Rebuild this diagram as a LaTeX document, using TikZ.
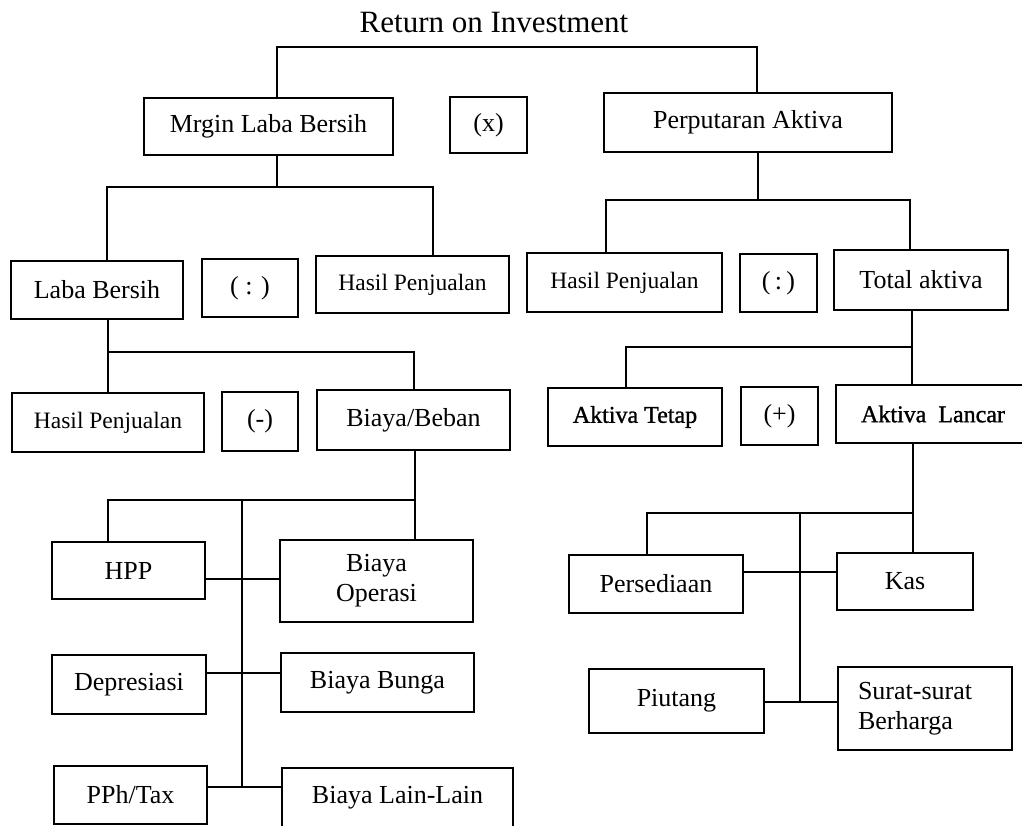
\documentclass[tikz,border=0pt]{standalone}
\usepackage{fontspec}
\setmainfont{Liberation Serif}
\newfontfamily\semib[FakeBold=1.2]{Liberation Serif}
\newcommand\fsz[1]{\fontsize{#1}{30}\selectfont}
\begin{document}
\begin{tikzpicture}[x=1pt,y=-1pt,
  box/.style={draw, line width=1.3pt, inner sep=0pt, font=\fsz{26}},
  hp/.style={box, font=\fsz{23.5}},
  bx/.style={box, font=\semib\fsz{24}},
  sz/.style n args={2}{minimum width=#1pt, minimum height=#2pt},
  ln/.style={line width=1.3pt}]
\useasboundingbox (0,0) rectangle (1022,825);
\fill[white] (0,0) rectangle (1022,825);

\node[font=\fsz{31}, anchor=base] (title) at (494,32) {Return on Investment};

% level 1
\node[box, sz={249}{57}] (mlb) at (268.5,126.5) {Mrgin Laba Bersih};
\node[box, sz={77}{56}] (kali) at (488.5,125) {(x)};
\node[box, sz={288}{59}] (pa) at (748,122.5) {Perputaran Aktiva};

% level 2
\node[box, sz={172}{58}] (lb) at (97,290) {Laba Bersih};
\node[box, sz={96}{58}] (bagi1) at (250,288) {( : )};
\node[hp, sz={193}{57}] (hp1) at (412.5,284.5) {Hasil Penjualan};
\node[hp, sz={195}{59}] (hp2) at (624.5,282.5) {Hasil Penjualan};
\node[box, sz={77}{58}] (bagi2) at (778.5,283) {(\,:\,)};
\node[box, sz={174}{60}] (ta) at (921,280) {Total aktiva};

% level 3
\node[hp, sz={192}{59}] (hp3) at (108,422.5) {Hasil Penjualan};
\node[box, sz={76}{59}] (kurang) at (260,421.5) {(-)};
\node[box, sz={193}{60}] (bb) at (413.5,420) {Biaya/Beban};
\node[bx, sz={174}{58}] (at) at (635,417) {Aktiva Tetap};
\node[box, sz={77}{58}] (tambah) at (779.5,416) {(+)};
\node[bx, sz={194}{58}] (al) at (933,414) {Aktiva\ \ Lancar};

% level 4 left
\node[box, sz={153}{57}] (hpp) at (128.5,570.5) {HPP};
\node[box, sz={193}{82}, align=center] (bo) at (376.5,581) {Biaya\\Operasi};
\node[box, sz={154}{59}] (dep) at (129,684.5) {Depresiasi};
\node[box, sz={193}{59}] (bbu) at (377.5,682.5) {Biaya Bunga};
\node[box, sz={153}{58}] (pph) at (130.5,795) {PPh/Tax};
\node[box, sz={231}{59}] (bll) at (397.5,797.5) {Biaya Lain-Lain};

% level 4 right
\node[box, sz={174}{58}] (pers) at (656,584) {Persediaan};
\node[box, sz={136}{57}] (kas) at (905,581.5) {Kas};
\node[box, sz={175}{64}] (piu) at (676.5,701) {Piutang};
\node[box, sz={174}{83}, align=left, text width=134pt] (ssb) at (925,708.5) {Surat-surat\\Berharga};

% connector coordinates
\coordinate (t1) at (277,47);   \coordinate (t2) at (757,47);
\coordinate (m0) at (277,187);  \coordinate (m1) at (107,187);  \coordinate (m2) at (433,187);
\coordinate (p0) at (758,200);  \coordinate (p1) at (606,200);  \coordinate (p2) at (910,200);
\coordinate (l1) at (108,352);  \coordinate (l2) at (414,352);
\coordinate (a1) at (626,347);  \coordinate (a2) at (912,347);
\coordinate (b1) at (108,500);  \coordinate (b2) at (415,500);  \coordinate (b3) at (242,500);
\coordinate (r1) at (242,579);  \coordinate (r2) at (242,673);  \coordinate (r3) at (242,787);
\coordinate (c1) at (647,513);  \coordinate (c2) at (913,513);  \coordinate (c3) at (800,513);
\coordinate (s1) at (800,572);  \coordinate (s2) at (800,702);

% connectors
\draw[ln] (t1 |- mlb.north) -- (t1) -- (t2) -- (t2 |- pa.north);
\draw[ln] (m0 |- mlb.south) -- (m0);
\draw[ln] (m1 |- lb.north) -- (m1) -- (m2) -- (m2 |- hp1.north);
\draw[ln] (p0 |- pa.south) -- (p0);
\draw[ln] (p1 |- hp2.north) -- (p1) -- (p2) -- (p2 |- ta.north);
\draw[ln] (l1 |- lb.south) -- (l1 |- hp3.north);
\draw[ln] (l1) -- (l2) -- (l2 |- bb.north);
\draw[ln] (a2 |- ta.south) -- (a2 |- al.north);
\draw[ln] (a1 |- at.north) -- (a1) -- (a2);
\draw[ln] (b2 |- bb.south) -- (b2 |- bo.north);
\draw[ln] (b1 |- hpp.north) -- (b1) -- (b2);
\draw[ln] (b3) -- (r3);
\draw[ln] (r1 -| hpp.east) -- (r1 -| bo.west);
\draw[ln] (r2 -| dep.east) -- (r2 -| bbu.west);
\draw[ln] (r3 -| pph.east) -- (r3 -| bll.west);
\draw[ln] (c2 |- al.south) -- (c2 |- kas.north);
\draw[ln] (c1 |- pers.north) -- (c1) -- (c2);
\draw[ln] (c3) -- (s2);
\draw[ln] (s1 -| pers.east) -- (s1 -| kas.west);
\draw[ln] (s2 -| piu.east) -- (s2 -| ssb.west);
\end{tikzpicture}
\end{document}
